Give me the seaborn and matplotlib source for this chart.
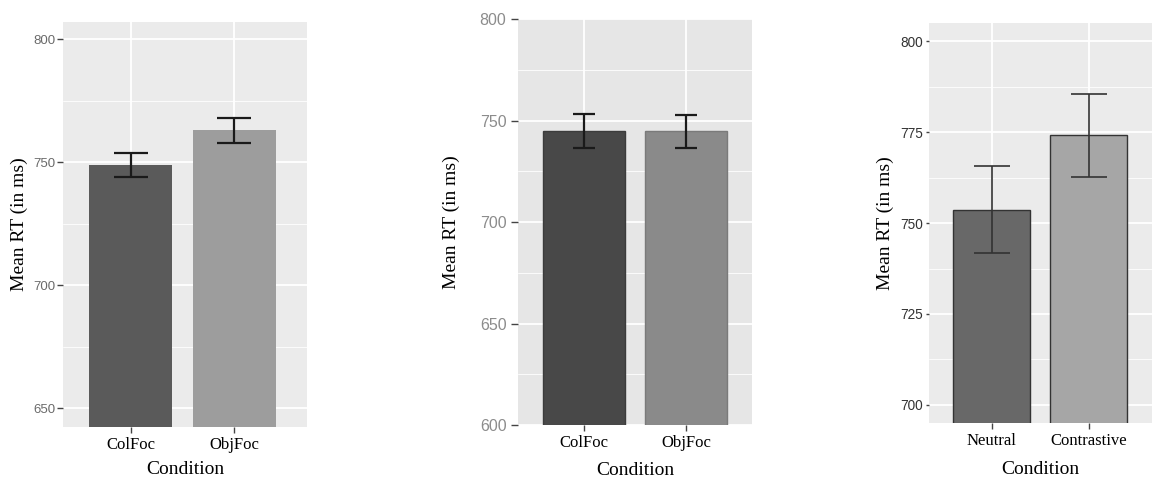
import numpy as np
import pandas as pd
import matplotlib
matplotlib.use("Agg")
import matplotlib.pyplot as plt
import seaborn as sns
from matplotlib.ticker import MultipleLocator, FixedLocator

# ---------------- data ----------------
cond_a = ["ColFoc", "ObjFoc"]
mean_a = [748.8, 763.2]
lo_a = [743.9, 757.9]
hi_a = [753.7, 768.1]
ticks_a = [650, 700, 750, 800]

cond_b = ["ColFoc", "ObjFoc"]
mean_b = [744.7, 744.7]
lo_b = [736.6, 736.6]
hi_b = [753.3, 752.6]
ticks_b = [600, 650, 700, 750, 800]

cond_c = ["Neutral", "Contrastive"]
mean_c = [753.7, 774.3]
lo_c = [741.9, 762.6]
hi_c = [765.6, 785.5]
ticks_c = [700, 725, 750, 775, 800]

xlabel_text = "Condition"
ylabel_text = "Mean RT (in ms)"

sns.set_style("darkgrid")
plt.rcParams["font.family"] = ["Liberation Sans", "DejaVu Sans"]

SERIF = ["Liberation Serif", "DejaVu Serif"]
SANS = ["Liberation Sans", "DejaVu Sans"]

fig = plt.figure(figsize=(11.53, 4.79), dpi=100)


def panel(rect, cats, means, lo, hi, ticks, ylim, xlim, colors, edgecolors, edge_lw,
          bg, tick_color, tick_fs, tick_len, tick_pad, capsize, err_color, err_lw,
          ylab_x, xlab_y):
    ax = fig.add_axes(rect)
    df = pd.DataFrame({"cond": cats, "mean": means})
    sns.barplot(data=df, x="cond", y="mean", hue="cond", palette=colors,
                width=0.8, saturation=1, legend=False, ax=ax, errorbar=None)
    for patch, ec in zip(ax.patches, edgecolors):
        patch.set_edgecolor(ec)
        patch.set_linewidth(edge_lw)
        patch.set_zorder(2)
    pos = np.arange(len(cats))
    means_arr = np.array(means)
    yerr = np.vstack([means_arr - np.array(lo), np.array(hi) - means_arr])
    ax.errorbar(pos, means_arr, yerr=yerr, fmt="none", ecolor=err_color,
                elinewidth=err_lw, capsize=capsize, capthick=err_lw, zorder=4)
    ax.set_facecolor(bg)
    ax.set_ylim(*ylim)
    ax.set_xlim(*xlim)
    ax.yaxis.set_major_locator(FixedLocator(ticks))
    step = ticks[1] - ticks[0]
    ax.yaxis.set_minor_locator(MultipleLocator(step / 2))
    ax.set_axisbelow(True)
    ax.grid(which="major", color="white", linewidth=1.3)
    ax.grid(which="minor", axis="y", color="white", linewidth=0.6)
    ax.xaxis.grid(True, which="major", color="white", linewidth=1.3)
    for s in ax.spines.values():
        s.set_visible(False)
    ax.tick_params(axis="y", which="major", length=tick_len, width=1.0,
                   color="#444444", pad=tick_pad, labelsize=tick_fs,
                   labelcolor=tick_color, left=True)
    ax.tick_params(axis="y", which="minor", length=0)
    ax.tick_params(axis="x", which="major", length=4, width=1.0,
                   color="#444444", pad=3.5, bottom=True)
    for lab in ax.get_yticklabels():
        lab.set_family(SANS)
    ax.set_xticks(pos)
    ax.set_xticklabels(cats, family=SERIF, fontsize=12, color="black")
    ax.set_xlabel(xlabel_text, family=SERIF, fontsize=14, color="black")
    ax.set_ylabel(ylabel_text, family=SERIF, fontsize=14, color="black")
    ax.yaxis.label.set_va("center")
    ax.xaxis.label.set_va("center")
    ax.yaxis.set_label_coords(ylab_x, 0.5)
    ax.xaxis.set_label_coords(0.5, xlab_y)
    return ax


panel([0.0546, 0.1086, 0.2117, 0.8454], cond_a, mean_a, lo_a, hi_a, ticks_a,
      (642.4, 807.0), (-0.655, 1.70),
      ["#5a5a5a", "#9d9d9d"], ["#5a5a5a", "#9d9d9d"], 0.0,
      "#ebebeb", "#6a6a6a", 9.5, 4, 1.5, 12.5, "#1a1a1a", 1.6,
      -0.178, -0.106)

panel([0.4495, 0.1127, 0.2025, 0.8470], cond_b, mean_b, lo_b, hi_b, ticks_b,
      (600, 800), (-0.644, 1.644),
      ["#484848", "#8a8a8a"], ["#3c3c3c", "#7a7a7a"], 1.0,
      "#e6e6e6", "#8c8c8c", 11.5, 5, 3.5, 8.0, "#1a1a1a", 1.6,
      -0.285, -0.111)

panel([0.806, 0.1175, 0.1931, 0.8351], cond_c, mean_c, lo_c, hi_c, ticks_c,
      (695.1, 805.1), (-0.645, 1.655),
      ["#686868", "#a6a6a6"], ["#333333", "#333333"], 1.0,
      "#ebebeb", "#333333", 9.8, 2.5, 2.0, 13.3, "#333333", 1.2,
      -0.199, -0.118)

fig.savefig("out.png", dpi=100, facecolor="white")
